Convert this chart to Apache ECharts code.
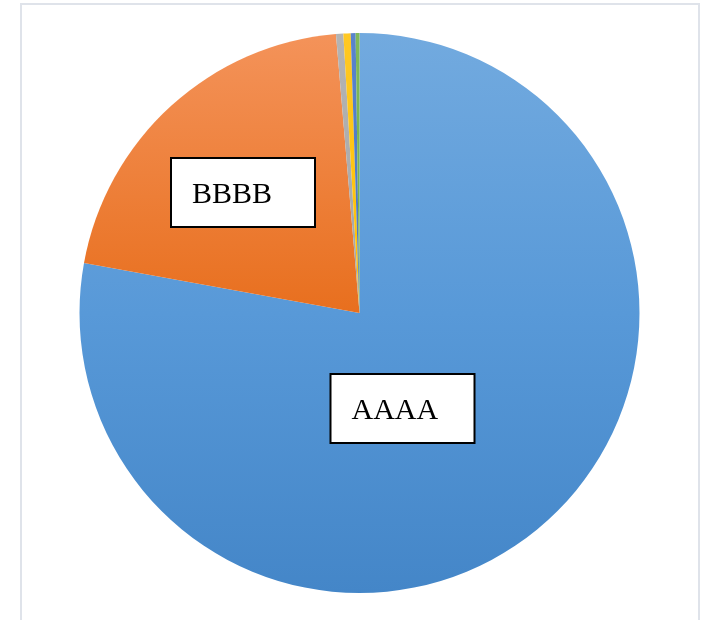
<!DOCTYPE html>
<html>
<head>
<meta charset="utf-8">
<script src="https://cdn.jsdelivr.net/npm/echarts@6/dist/echarts.min.js"></script>
<style>
html,body{margin:0;padding:0;background:#fff;}
#chart{width:709px;height:620px;}
</style>
</head>
<body>
<div id="chart"></div>
<script>
var categories = ['AAAA', 'BBBB', 'CCCC', 'DDDD', 'EEEE', 'FFFF'];
var values = [77.86, 20.8, 0.42, 0.42, 0.28, 0.22];
var shownLabels = ['AAAA', 'BBBB'];

function grad(top, mid, bottom) {
  return new echarts.graphic.LinearGradient(0, 33, 0, 593, [
    {offset: 0, color: top},
    {offset: 0.5, color: mid},
    {offset: 1, color: bottom}
  ], true);
}
var colors = [
  grad('#72aadf', '#5899d8', '#4486c8'),
  grad('#f4935a', '#e86f1e', '#d9600c'),
  grad('#b4b4b4', '#a5a5a5', '#959595'),
  grad('#ffc824', '#ffc000', '#eeb000'),
  grad('#5a84cc', '#4472c4', '#3a64b2'),
  grad('#80b95a', '#70ad47', '#629c3c')
];
var labelCenters = [[402.5, 408.5], [243, 192.5]];

var data = categories.map(function (c, i) {
  return {
    name: c,
    value: values[i],
    itemStyle: {color: colors[i]},
    label: {show: shownLabels.indexOf(c) >= 0}
  };
});

var chart = echarts.init(document.getElementById('chart'), null, {renderer: 'canvas'});
chart.setOption({
  animation: false,
  backgroundColor: '#ffffff',
  graphic: [{
    type: 'rect',
    shape: {x: 21, y: 4, width: 678, height: 640},
    style: {fill: 'none', stroke: '#dfe3ea', lineWidth: 2},
    silent: true,
    z: 0
  }],
  series: [{
    type: 'pie',
    center: [359.5, 313],
    radius: [0, 280],
    startAngle: 90,
    clockwise: true,
    avoidLabelOverlap: false,
    itemStyle: {borderWidth: 0},
    emphasis: {disabled: true},
    labelLine: {show: false},
    label: {
      position: 'inside',
      formatter: '{t|{b}}',
      backgroundColor: '#fff',
      borderColor: '#000',
      borderWidth: 2,
      width: 102,
      align: 'left',
      verticalAlign: 'middle',
      padding: [21, 20, 21, 20],
      rich: {
        t: {
          fontFamily: 'Liberation Serif',
          fontSize: 30,
          color: '#000',
          height: 25,
          lineHeight: 25,
          padding: [5, 0, 0, 0]
        }
      }
    },
    labelLayout: function (p) {
      if (p.dataIndex < 2) {
        return {
          x: labelCenters[p.dataIndex][0] - 71,
          y: labelCenters[p.dataIndex][1],
          align: 'left',
          verticalAlign: 'middle'
        };
      }
      return {};
    },
    data: data
  }]
});
</script>
</body>
</html>
